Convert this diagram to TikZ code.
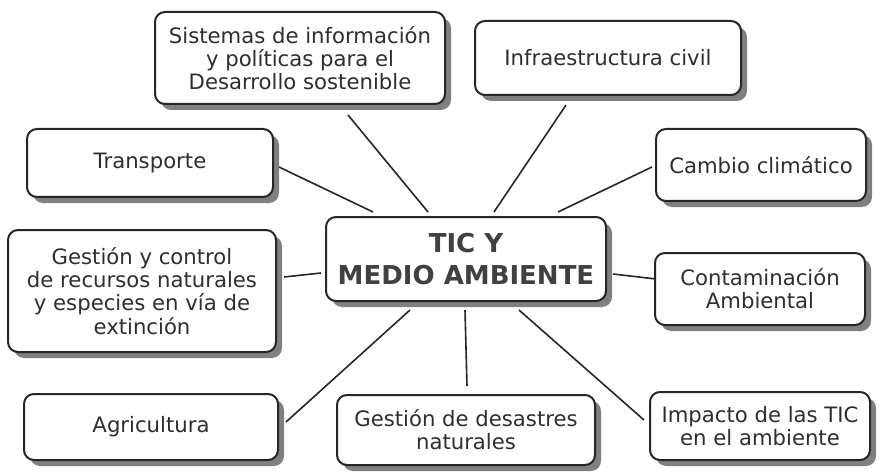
\documentclass[tikz,border=0pt]{standalone}
\usepackage{fontspec}
\setmainfont{DejaVu Sans}
\usetikzlibrary{shadows, calc}

\begin{document}
\begin{tikzpicture}[
    x=0.5pt, y=-0.5pt,
    tema/.style={rectangle, draw=black!85, line width=1pt, rounded corners=5pt, fill=white, align=center, inner sep=2pt, text=black!82, font=\fontsize{10.6}{11.6}\selectfont, drop shadow={shadow xshift=3pt, shadow yshift=-3pt, fill=black!50, opacity=1}},
    centro/.style={tema, font=\fontsize{13}{16}\selectfont\bfseries, text=black!75},
    enlace/.style={draw=black!85, line width=0.8pt}
]
\useasboundingbox (0,0) rectangle (884,476);

\node[centro, minimum width=140pt, minimum height=42pt] (tic) at (466,259) {TIC Y\\MEDIO AMBIENTE};
\node[tema, minimum width=145pt, minimum height=46pt] (sistemas) at (300,58) {Sistemas de información\\y políticas para el\\Desarrollo sostenible};
\node[tema, minimum width=133pt, minimum height=37pt] (infra) at (608,58) {Infraestructura civil};
\node[tema, minimum width=123pt, minimum height=34pt] (transporte) at (150,163) {Transporte};
\node[tema, minimum width=105pt, minimum height=36pt] (cambio) at (761,165) {Cambio climático};
\node[tema, minimum width=134pt, minimum height=61pt] (gestion) at (142,291) {Gestión y control\\de recursos naturales\\y especies en vía de\\extinción};
\node[tema, minimum width=105pt, minimum height=36pt] (contam) at (760,289) {Contaminación\\Ambiental};
\node[tema, minimum width=127pt, minimum height=33pt] (agri) at (151,427) {Agricultura};
\node[tema, minimum width=129pt, minimum height=35pt] (desastres) at (466,430) {Gestión de desastres\\naturales};
\node[tema, minimum width=110pt, minimum height=34pt] (impacto) at (760,426) {Impacto de las TIC\\en el ambiente};

% enlaces al tema central
\draw[enlace] ($(transporte.east)+(5,4)$) -- ($(tic.north)+(-93,-4)$);
\draw[enlace] ($(sistemas.south)+(48,10)$) -- ($(tic.north)+(-38,-4)$);
\draw[enlace] ($(infra.south)+(-42,9)$) -- ($(tic.north)+(28,-4)$);
\draw[enlace] ($(cambio.west)+(-3,2)$) -- ($(tic.north)+(92,-4)$);
\draw[enlace] ($(contam.west)+(2,-10)$) -- ($(tic.east)+(6,15)$);
\draw[enlace] ($(gestion.east)+(7,-14)$) -- ($(tic.west)+(-4,14)$);
\draw[enlace] ($(agri.east)+(7,-5)$) -- ($(tic.south)+(-56,8)$);
\draw[enlace] ($(desastres.north)+(1,-8)$) -- ($(tic.south)+(-1,8)$);
\draw[enlace] ($(impacto.west)+(-5,-6)$) -- ($(tic.south)+(53,8)$);
\end{tikzpicture}
\end{document}
